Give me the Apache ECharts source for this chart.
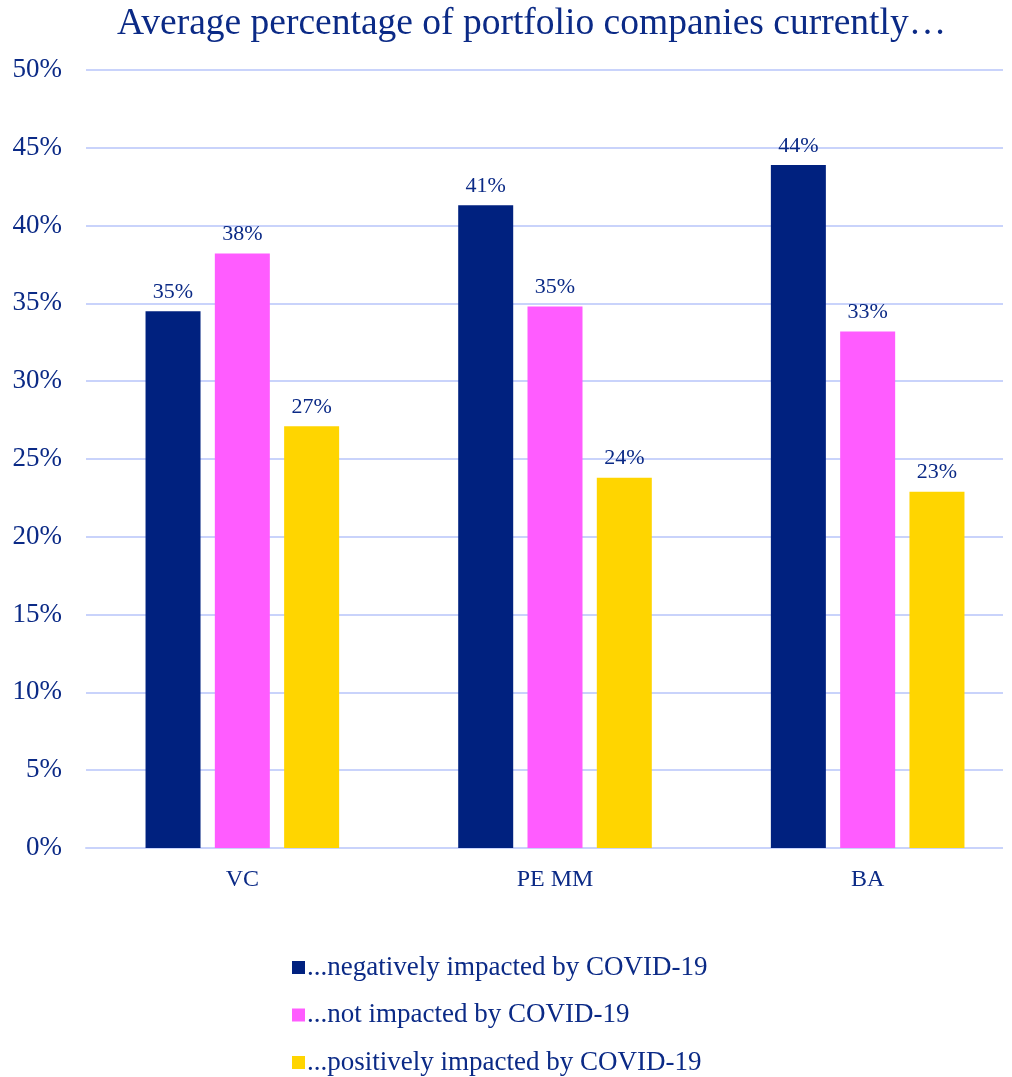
<!DOCTYPE html>
<html>
<head>
<meta charset="utf-8">
<script src="https://cdn.jsdelivr.net/npm/echarts@6/dist/echarts.min.js"></script>
<style>
  html, body { margin: 0; padding: 0; background: #ffffff; }
  #chart { width: 1012px; height: 1077px; }
</style>
</head>
<body>
<div id="chart"></div>
<script>
// Fund types along the x axis
const categories = ['VC', 'PE MM', 'BA'];

// Average share of portfolio companies (%) per impact group
const negativelyImpacted = [34.5, 41.3, 43.9];
const notImpacted = [38.2, 34.8, 33.2];
const positivelyImpacted = [27.1, 23.8, 22.9];

const seriesNames = [
  '...negatively impacted by COVID-19',
  '...not impacted by COVID-19',
  '...positively impacted by COVID-19'
];

// Value axis ticks
const yTicks = [0, 5, 10, 15, 20, 25, 30, 35, 40, 45, 50];

const textColor = '#0b2a86';
const fontFamily = '"Liberation Serif", "Times New Roman", serif';
const colors = ['#00217f', '#ff5cff', '#ffd500'];

const chart = echarts.init(document.getElementById('chart'), null, { renderer: 'canvas' });

function barSeries(name, data, color) {
  return {
    name: name,
    type: 'bar',
    data: data,
    barWidth: 55,
    barGap: '26%',
    itemStyle: { color: color },
    label: {
      show: true,
      position: 'top',
      distance: 8,
      color: textColor,
      fontFamily: fontFamily,
      fontSize: 22,
      formatter: p => Math.round(p.value) + '%'
    }
  };
}

chart.setOption({
  backgroundColor: '#ffffff',
  animation: false,
  color: colors,
  title: {
    text: 'Average percentage of portfolio companies currently…',
    left: 112,
    top: 0,
    textStyle: {
      color: textColor,
      fontFamily: fontFamily,
      fontSize: 37.5,
      fontWeight: 'normal'
    }
  },
  legend: {
    orient: 'vertical',
    left: 292,
    top: 954,
    padding: 0,
    itemWidth: 13,
    itemHeight: 13,
    itemGap: 20.5,
    icon: 'rect',
    textStyle: {
      color: textColor,
      fontFamily: fontFamily,
      fontSize: 27,
      padding: [0, 0, 0, -3]
    },
    data: seriesNames
  },
  grid: {
    left: 86,
    width: 938,
    top: 70,
    bottom: 229,
    outerBoundsMode: 'none',
    containLabel: false
  },
  xAxis: {
    type: 'category',
    data: categories,
    axisLine: { show: true, lineStyle: { color: '#c9d3fb', width: 2 } },
    axisTick: { show: false },
    axisLabel: {
      color: textColor,
      fontFamily: fontFamily,
      fontSize: 24,
      margin: 20
    }
  },
  yAxis: {
    type: 'value',
    min: yTicks[0],
    max: yTicks[yTicks.length - 1],
    interval: yTicks[1] - yTicks[0],
    axisLine: { show: false },
    axisTick: { show: false },
    splitLine: { show: true, lineStyle: { color: '#c9d3fb', width: 2 } },
    axisLabel: {
      color: textColor,
      fontFamily: fontFamily,
      fontSize: 27,
      margin: 24,
      formatter: v => v + '%'
    }
  },
  // grid lines end a little short of the right edge
  graphic: [{
    type: 'rect',
    right: 0,
    top: 55,
    shape: { width: 9, height: 810 },
    style: { fill: '#ffffff' },
    z: 100
  }],
  series: [
    barSeries(seriesNames[0], negativelyImpacted, colors[0]),
    barSeries(seriesNames[1], notImpacted, colors[1]),
    barSeries(seriesNames[2], positivelyImpacted, colors[2])
  ]
});
</script>
</body>
</html>
